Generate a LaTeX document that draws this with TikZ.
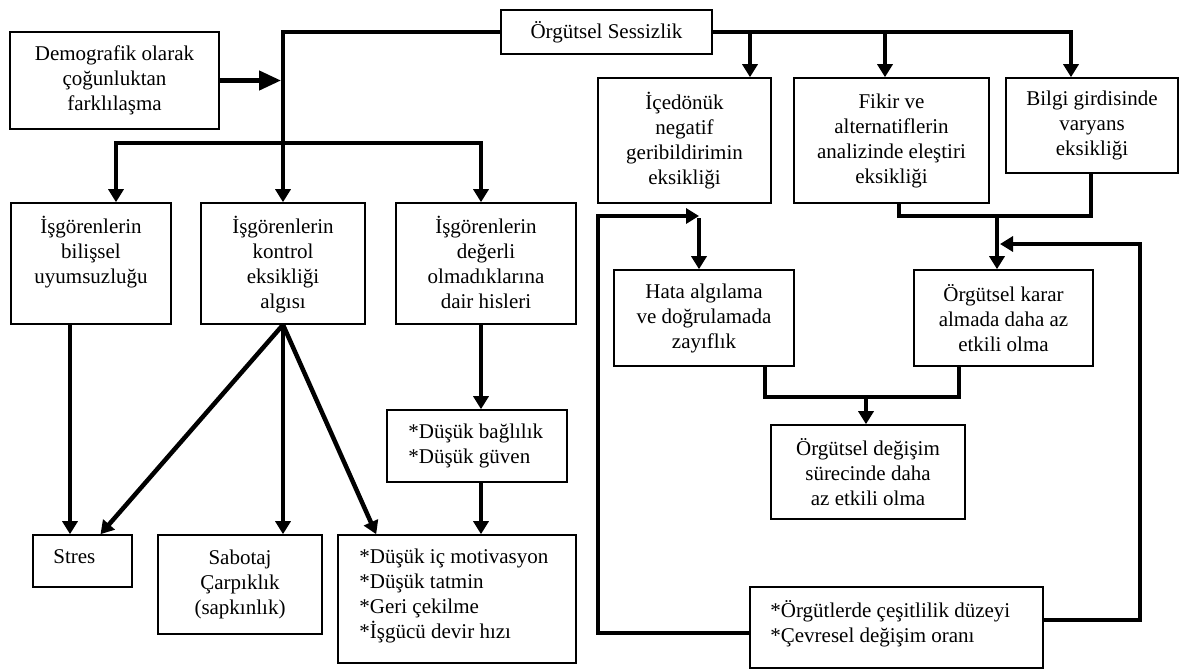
\documentclass[tikz,border=0pt]{standalone}
\usepackage{fontspec}
\setmainfont{Liberation Serif}
\usetikzlibrary{arrows.meta}
\newcommand\figfont{\fontsize{21}{25}\selectfont}
\begin{document}
\begin{tikzpicture}[x=1pt,y=-1pt,
 box/.style={draw, line width=1.6pt, inner sep=0pt, align=center, font=\figfont},
 txt/.style={inner sep=0pt, font=\figfont},
 conn/.style={line width=4.5pt},
 arr/.style={-{Triangle[length=13pt,width=15pt]}},
 bigarr/.style={-{Triangle[length=22pt,width=19pt]}},
 ]
\fill[white] (0,0) rectangle (1185,670);
\useasboundingbox (0,0) rectangle (1185,670);

% boxes
\node[box, minimum width=209pt, minimum height=97pt] (dem) at (114.5,80.5) {Demografik olarak\\çoğunluktan\\farklılaşma};
\node[box, minimum width=211pt, minimum height=44pt] (ses) at (606.5,32) {Örgütsel Sessizlik};
\node[box, minimum width=160pt, minimum height=121pt] (bil) at (91,263.5) {};
\node[txt, anchor=north, align=center] (bil-t) at ([yshift=-13.5pt]bil.north) {\strut İşgörenlerin\\bilişsel\\uyumsuzluğu};
\node[box, minimum width=164pt, minimum height=121pt] (kon) at (283,263.5) {};
\node[txt, anchor=north, align=center] (kon-t) at ([yshift=-13.5pt]kon.north) {\strut İşgörenlerin\\kontrol\\eksikliği\\algısı};
\node[box, minimum width=180pt, minimum height=121pt] (deg) at (486,263.5) {};
\node[txt, anchor=north, align=center] (deg-t) at ([yshift=-13.5pt]deg.north) {\strut İşgörenlerin\\değerli\\olmadıklarına\\dair hisleri};
\node[box, minimum width=173pt, minimum height=125pt] (ice) at (684.5,140.5) {İçedönük\\negatif\\geribildirimin\\eksikliği};
\node[box, minimum width=195pt, minimum height=125pt] (fik) at (891.5,140.5) {Fikir ve\\alternatiflerin\\analizinde eleştiri\\eksikliği};
\node[box, minimum width=172pt, minimum height=95pt] (bgi) at (1092,125.5) {Bilgi girdisinde\\varyans\\eksikliği};
\node[box, minimum width=180pt, minimum height=96pt] (hata) at (704,318) {Hata algılama\\ve doğrulamada\\zayıflık};
\node[box, minimum width=179pt, minimum height=96pt] (karar) at (1003.5,318) {Örgütsel karar\\almada daha az\\etkili olma};
\node[box, minimum width=194pt, minimum height=94pt] (dgs) at (868,472) {Örgütsel değişim\\sürecinde daha\\az etkili olma};
\node[box, minimum width=293pt, minimum height=81pt] (org) at (896.5,627.5) {};
\node[txt, anchor=north west, align=left] (org-t) at ([xshift=21pt,yshift=-13.5pt]org.north west) {\strut*Örgütlerde çeşitlilik düzeyi\\*Çevresel değişim oranı};
\node[box, minimum width=180pt, minimum height=72pt] (bag) at (477,446) {};
\node[txt, anchor=west, align=left] (bag-t) at ([xshift=22pt]bag.west) {*Düşük bağlılık\\*Düşük güven};
\node[box, minimum width=99pt, minimum height=52pt] (str) at (82.5,561) {};
\node[txt, anchor=north west, align=left] (str-t) at ([xshift=21pt,yshift=-11.5pt]str.north west) {\strut Stres};
\node[box, minimum width=164pt, minimum height=99pt] (sab) at (240,584.5) {Sabotaj\\Çarpıklık\\(sapkınlık)};
\node[box, minimum width=238pt, minimum height=128pt] (mot) at (457,599) {};
\node[txt, anchor=north west, align=left] (mot-t) at ([xshift=22pt,yshift=-11.5pt]mot.north west) {\strut*Düşük iç motivasyon\\*Düşük tatmin\\*Geri çekilme\\*İşgücü devir hızı};

% junction coordinates
\coordinate (bL) at (116,143);
\coordinate (bR) at (481,143);
\coordinate (sR) at (1071,32);
\coordinate (s1) at (750,32);
\coordinate (s2) at (885,32);
\coordinate (f1) at (899,216);
\coordinate (f2) at (1091,216);
\coordinate (kJ) at (997,216);
\coordinate (fb1) at (1140,620);
\coordinate (fb2) at (1140,244);
\coordinate (fbT) at (1000,244);
\coordinate (lb) at (598,633);
\coordinate (lt) at (598,216);
\coordinate (lT) at (699,216);
\coordinate (lV) at (699,218);
\coordinate (h1) at (765,397);
\coordinate (h2) at (959,397);
\coordinate (hJ) at (866,397);
\coordinate (v70) at (70,330);
\coordinate (v481) at (481,330);
\coordinate (dT) at (281,80.5);

% left part
\draw[conn,arr] (ses.west) -| (kon.north);
\draw[conn,bigarr] (dem.east) -- (dT);
\draw[conn,{Triangle[length=13pt,width=15pt]}-{Triangle[length=13pt,width=15pt]}] (bil.north -| bL) -- (bL) -- (bR) -- (deg.north -| bR);
\draw[conn,arr] (bil.south -| v70) -- (str.north -| v70);
\draw[conn,arr] (kon.south) -- ([xshift=18pt]str.north);
\draw[conn,arr] (kon.south) -- (sab.north -| kon.south);
\draw[conn,arr] (kon.south) -- ([xshift=39pt]mot.north west);
\draw[conn,arr] (deg.south -| v481) -- (bag.north -| v481);
\draw[conn,arr] (bag.south -| v481) -- (mot.north -| v481);

% right part
\draw[conn,arr] (ses.east) -- (sR) -- (sR |- bgi.north);
\draw[conn,arr] (s1) -- (s1 |- ice.north);
\draw[conn,arr] (s2) -- (s2 |- fik.north);
\draw[conn] (fik.south -| f1) -- (f1) -- (f2) -- (bgi.south -| f2);
\draw[conn,arr] (kJ) -- (karar.north -| kJ);
\draw[conn,arr] (org.east |- fb1) -- (fb1) -- (fb2) -- (fbT);
\draw[conn,arr] (org.west |- lb) -- (lb) -- (lt) -- (lT);
\draw[conn,arr] (lV) -- (hata.north -| lV);
\draw[conn] (hata.south -| h1) -- (h1) -- (h2) -- (karar.south -| h2);
\draw[conn,arr] (hJ) -- (dgs.north -| hJ);
\end{tikzpicture}
\end{document}
